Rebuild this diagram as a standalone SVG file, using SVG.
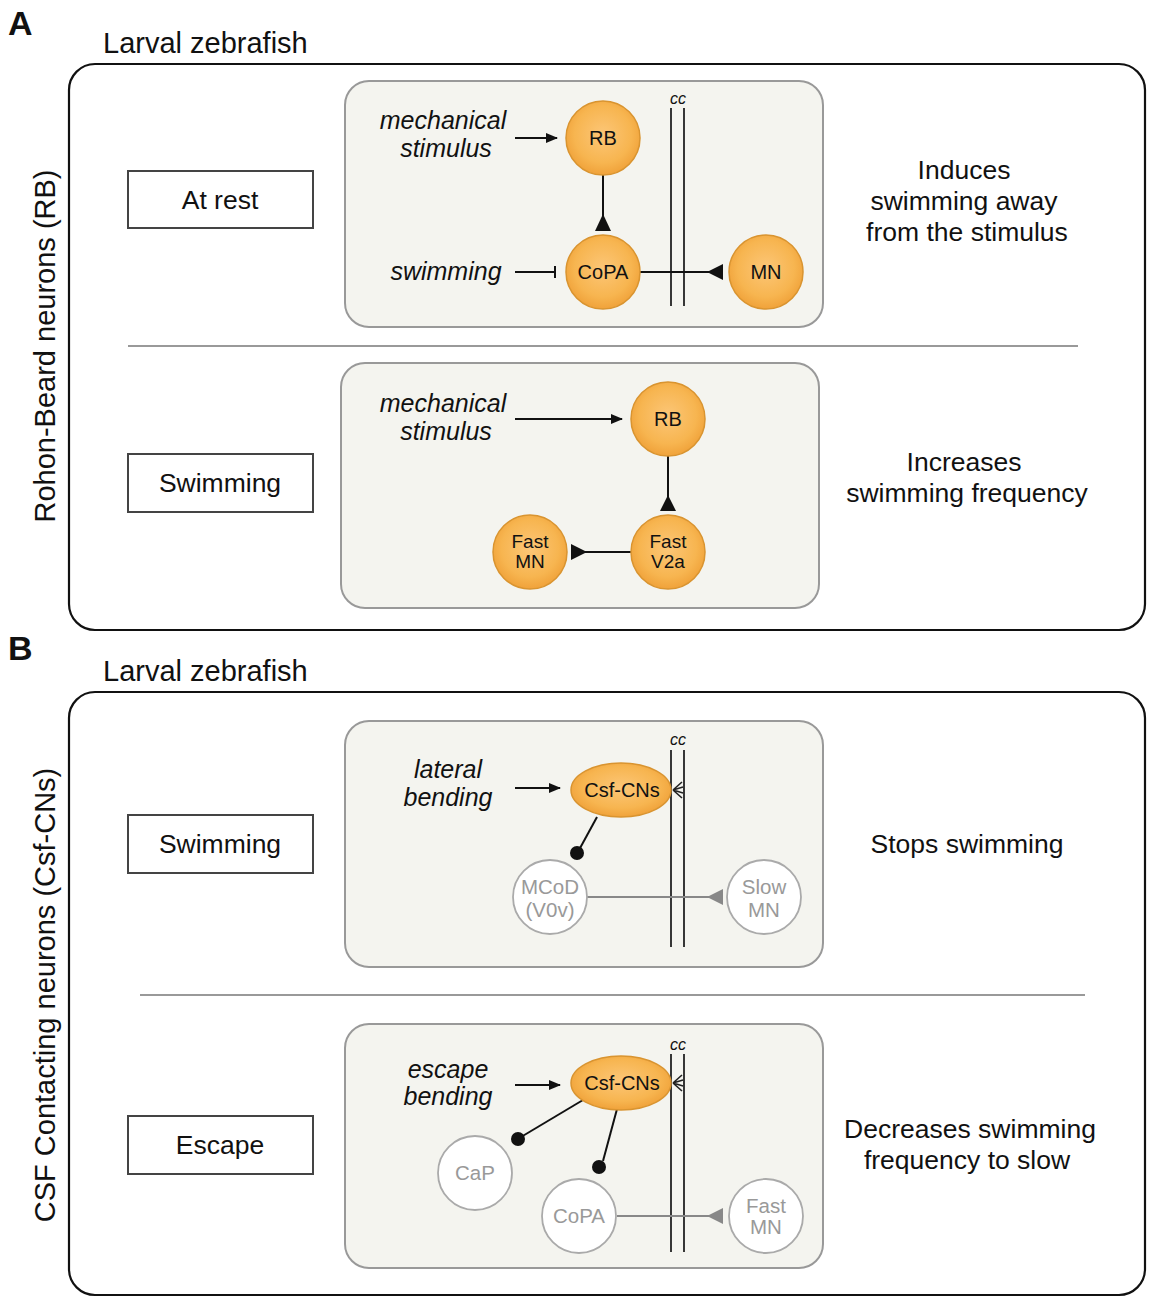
<svg xmlns="http://www.w3.org/2000/svg" width="1150" height="1300" viewBox="0 0 1150 1300">
<defs>
<radialGradient id="og" cx="50%" cy="45%" r="55%">
<stop offset="0" stop-color="#fcc677"/>
<stop offset="0.7" stop-color="#f7b550"/>
<stop offset="1" stop-color="#f0a23a"/>
</radialGradient>
<marker id="arr" markerWidth="12" markerHeight="10" refX="11" refY="5" orient="auto" markerUnits="userSpaceOnUse">
<path d="M0,0 L12,5 L0,10 Z" fill="#111"/>
</marker>
</defs>
<style>
text{font-family:"Liberation Sans",Arial,sans-serif;fill:#111}
.big{font-size:34px;font-weight:bold}
.title{font-size:29px}
.side{font-size:29px}
.lbl{font-size:26.5px;text-anchor:middle}
.it{font-size:25px;font-style:italic;text-anchor:middle}
.cc{font-size:16px;font-style:italic;text-anchor:middle}
.outer{fill:#fff;stroke:#111;stroke-width:2.2}
.inner{fill:#f4f4ef;stroke:#999;stroke-width:2}
.state{fill:#fff;stroke:#444;stroke-width:2}
.div{stroke:#999;stroke-width:2}
.on{fill:url(#og);stroke:#d99430;stroke-width:1.5}
.off{fill:#fff;stroke:#aaa;stroke-width:1.8}
.nt{font-size:20px;text-anchor:middle}
.nt2{font-size:19px;text-anchor:middle}
.gt{font-size:20.5px;text-anchor:middle;fill:#999}
.ln{stroke:#111;stroke-width:2;fill:none}
.gl{stroke:#888;stroke-width:1.8;fill:none}
.ccl{stroke:#222;stroke-width:1.8}
</style>

<!-- Panel A -->
<text class="big" x="8" y="35">A</text>
<text class="title" x="103" y="53">Larval zebrafish</text>
<rect class="outer" x="69" y="64" width="1076" height="566" rx="26"/>
<text class="side" transform="translate(55,346) rotate(-90)" text-anchor="middle">Rohon-Beard neurons (RB)</text>
<line class="div" x1="128" y1="346" x2="1078" y2="346"/>

<g id="state-atrest"><rect class="state" x="128" y="171" width="185" height="57"/><text class="lbl" x="220" y="209">At rest</text></g>
<g id="state-swimA"><rect class="state" x="128" y="454" width="185" height="58"/><text class="lbl" x="220" y="492">Swimming</text></g>
<g id="res-A1"><text class="lbl" x="964" y="179">Induces</text><text class="lbl" x="964" y="210">swimming away</text><text class="lbl" x="967" y="241">from the stimulus</text></g>
<g id="res-A2"><text class="lbl" x="964" y="471">Increases</text><text class="lbl" x="967" y="502">swimming frequency</text></g>

<g id="boxA1">
<rect class="inner" x="345" y="81" width="478" height="246" rx="24"/>
<line class="ccl" x1="671" y1="108" x2="671" y2="306"/><line class="ccl" x1="684" y1="108" x2="684" y2="306"/>
<text class="cc" x="678" y="104">cc</text>
<text class="it" x="443" y="129">mechanical</text><text class="it" x="446" y="157">stimulus</text>
<text class="it" x="446" y="280">swimming</text>
</g>
<g id="conn-A1">
<line class="ln" x1="515" y1="138" x2="557" y2="138" marker-end="url(#arr)"/>
<line class="ln" x1="603" y1="175" x2="603" y2="216"/>
<path d="M603,214 L611,231 L595,231 Z" fill="#111"/>
<line class="ln" x1="515" y1="272" x2="555" y2="272"/>
<line class="ln" x1="555" y1="266" x2="555" y2="278"/>
<line class="ln" x1="640" y1="272" x2="710" y2="272"/>
<path d="M707,272 L723,264 L723,280 Z" fill="#111"/>
</g>
<g id="A1-RB"><circle class="on" cx="603" cy="138" r="37"/><text class="nt" x="603" y="145">RB</text></g>
<g id="A1-CoPA"><circle class="on" cx="603" cy="272" r="37"/><text class="nt" x="603" y="279">CoPA</text></g>
<g id="A1-MN"><circle class="on" cx="766" cy="272" r="37"/><text class="nt" x="766" y="279">MN</text></g>

<g id="boxA2">
<rect class="inner" x="341" y="363" width="478" height="245" rx="24"/>
<text class="it" x="443" y="412">mechanical</text><text class="it" x="446" y="440">stimulus</text>
</g>
<g id="conn-A2">
<line class="ln" x1="515" y1="419" x2="622" y2="419" marker-end="url(#arr)"/>
<line class="ln" x1="668" y1="456" x2="668" y2="498"/>
<path d="M668,495 L676,511 L660,511 Z" fill="#111"/>
<line class="ln" x1="631" y1="552" x2="583" y2="552"/>
<path d="M587,552 L571,544 L571,560 Z" fill="#111"/>
</g>
<g id="A2-RB"><circle class="on" cx="668" cy="419" r="37"/><text class="nt" x="668" y="426">RB</text></g>
<g id="A2-V2a"><circle class="on" cx="668" cy="552" r="37"/><text class="nt2" x="668" y="548">Fast</text><text class="nt2" x="668" y="568">V2a</text></g>
<g id="A2-FastMN"><circle class="on" cx="530" cy="552" r="37"/><text class="nt2" x="530" y="548">Fast</text><text class="nt2" x="530" y="568">MN</text></g>

<!-- Panel B -->
<text class="big" x="8" y="660">B</text>
<text class="title" x="103" y="681">Larval zebrafish</text>
<rect class="outer" x="69" y="692" width="1076" height="603" rx="26"/>
<text class="side" transform="translate(55,995) rotate(-90)" text-anchor="middle">CSF Contacting neurons (Csf-CNs)</text>
<line class="div" x1="140" y1="995" x2="1085" y2="995"/>

<g id="state-swimB"><rect class="state" x="128" y="815" width="185" height="58"/><text class="lbl" x="220" y="853">Swimming</text></g>
<g id="state-escape"><rect class="state" x="128" y="1116" width="185" height="58"/><text class="lbl" x="220" y="1154">Escape</text></g>
<g id="res-B1"><text class="lbl" x="967" y="853">Stops swimming</text></g>
<g id="res-B2"><text class="lbl" x="970" y="1138">Decreases swimming</text><text class="lbl" x="967" y="1169">frequency to slow</text></g>

<g id="boxB1">
<rect class="inner" x="345" y="721" width="478" height="246" rx="24"/>
<line class="ccl" x1="671" y1="750" x2="671" y2="947"/><line class="ccl" x1="684" y1="750" x2="684" y2="947"/>
<text class="cc" x="678" y="745">cc</text>
<text class="it" x="448" y="778">lateral</text><text class="it" x="448" y="806">bending</text>
</g>
<g id="conn-B1">
<line class="ln" x1="515" y1="788" x2="560" y2="788" marker-end="url(#arr)"/>
<line class="ln" x1="597" y1="817" x2="579" y2="850"/>
<circle cx="577" cy="853" r="7" fill="#111"/>
<line class="gl" x1="587" y1="897" x2="710" y2="897"/>
<path d="M707,897 L723,889 L723,905 Z" fill="#888"/>
<path d="M673,790 L682,782 M673,790 L683,787 M673,790 L683,793 M673,790 L682,798" stroke="#222" stroke-width="1.6" fill="none"/>
</g>
<g id="B1-Csf"><ellipse class="on" cx="621" cy="790" rx="50" ry="27"/><text class="nt" x="622" y="797">Csf-CNs</text></g>
<g id="B1-MCoD"><circle class="off" cx="550" cy="897" r="37"/><text class="gt" x="550" y="894">MCoD</text><text class="gt" x="550" y="917">(V0v)</text></g>
<g id="B1-SlowMN"><circle class="off" cx="764" cy="897" r="37"/><text class="gt" x="764" y="894">Slow</text><text class="gt" x="764" y="917">MN</text></g>

<g id="boxB2">
<rect class="inner" x="345" y="1024" width="478" height="244" rx="24"/>
<line class="ccl" x1="671" y1="1054" x2="671" y2="1252"/><line class="ccl" x1="684" y1="1054" x2="684" y2="1252"/>
<text class="cc" x="678" y="1050">cc</text>
<text class="it" x="448" y="1078">escape</text><text class="it" x="448" y="1105">bending</text>
</g>
<g id="conn-B2">
<line class="ln" x1="515" y1="1085" x2="560" y2="1085" marker-end="url(#arr)"/>
<line class="ln" x1="583" y1="1100" x2="521" y2="1137"/>
<circle cx="518" cy="1139" r="7" fill="#111"/>
<line class="ln" x1="617" y1="1109" x2="603" y2="1161"/>
<circle cx="599" cy="1167" r="7" fill="#111"/>
<line class="gl" x1="617" y1="1216" x2="710" y2="1216"/>
<path d="M707,1216 L723,1208 L723,1224 Z" fill="#888"/>
<path d="M673,1083 L682,1075 M673,1083 L683,1080 M673,1083 L683,1086 M673,1083 L682,1091" stroke="#222" stroke-width="1.6" fill="none"/>
</g>
<g id="B2-Csf"><ellipse class="on" cx="621" cy="1083" rx="50" ry="27"/><text class="nt" x="622" y="1090">Csf-CNs</text></g>
<g id="B2-CaP"><circle class="off" cx="475" cy="1173" r="37"/><text class="gt" x="475" y="1180">CaP</text></g>
<g id="B2-CoPA"><circle class="off" cx="579" cy="1216" r="37"/><text class="gt" x="579" y="1223">CoPA</text></g>
<g id="B2-FastMN"><circle class="off" cx="766" cy="1216" r="37"/><text class="gt" x="766" y="1213">Fast</text><text class="gt" x="766" y="1234">MN</text></g>
</svg>
